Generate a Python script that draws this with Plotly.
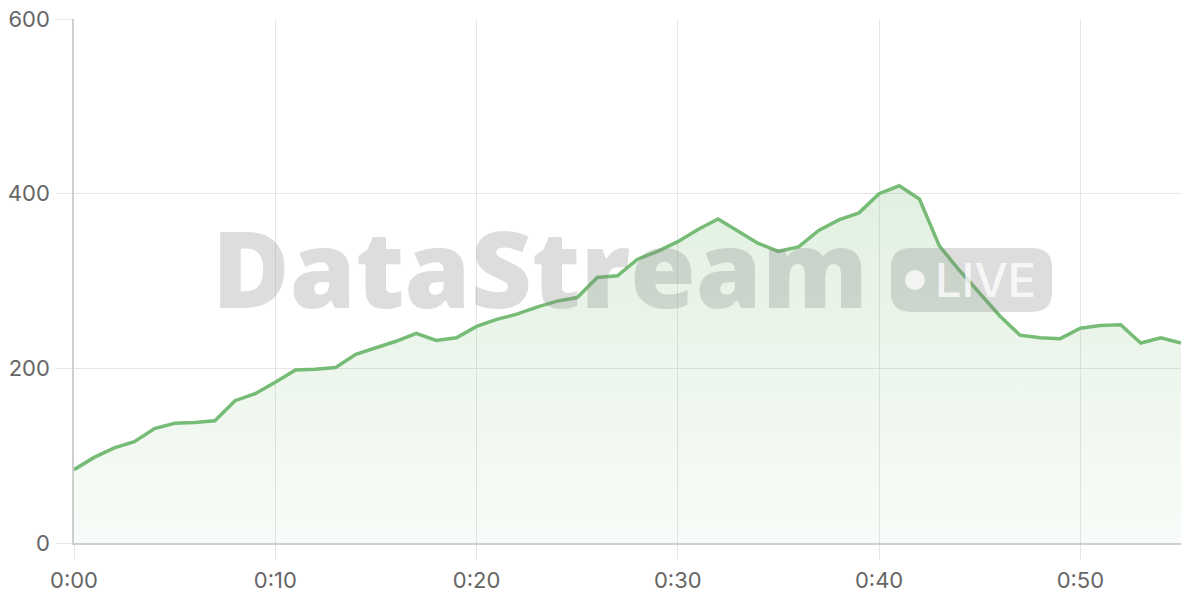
import plotly.graph_objects as go

# one reading per minute, 0:00 .. 0:55
minutes = list(range(56))
values = [
    84, 98, 109, 116, 131, 137, 138, 140, 163, 171,
    184, 198, 199, 201, 216, 223, 231, 240, 232, 235,
    248, 256, 262, 270, 277, 281, 304, 306, 325, 334,
    345, 359, 371, 357, 343, 334, 339, 358, 370, 378,
    400, 409, 394, 340, 312, 286, 260, 238, 235, 234,
    246, 249, 250, 229, 235, 229,
]
tick_vals = [0, 10, 20, 30, 40, 50]
tick_text = ["0:00", "0:10", "0:20", "0:30", "0:40", "0:50"]

_GREEN = "rgb(118,188,118)"
_GRID = "#e6e6e6"
_AXIS = "#cfcfcf"
_WM = "rgba(128,128,128,0.27)"

fig = go.Figure()
fig.add_trace(go.Scatter(
    x=minutes, y=values, mode="lines",
    line=dict(color=_GREEN, width=3.5),
    fill="tozeroy",
    fillgradient=dict(
        type="vertical",
        colorscale=[[0, "rgba(118,188,118,0.05)"], [1, "rgba(118,188,118,0.22)"]],
    ),
    showlegend=False, hoverinfo="skip",
))

fig.update_xaxes(
    range=[0, 55], tickvals=tick_vals, ticktext=tick_text,
    showgrid=True, gridcolor=_GRID, gridwidth=1,
    showline=True, linecolor=_AXIS, linewidth=1.5,
    ticks="outside", ticklen=15, tickcolor=_GRID,
    ticklabelstandoff=2, ticklabeloverflow="allow",
    zeroline=False, automargin=False,
)
fig.update_yaxes(
    range=[0, 600], tickvals=[0, 200, 400, 600],
    showgrid=True, gridcolor=_GRID, gridwidth=1,
    showline=True, linecolor=_AXIS, linewidth=1.5,
    ticks="outside", ticklen=16, tickcolor=_GRID,
    ticklabelstandoff=2, ticklabeloverflow="allow",
    zeroline=False, automargin=False,
)

# watermark (paper coords of the plot area)
fig.add_annotation(
    text="DataStream", xref="paper", yref="paper", x=0.421, y=0.527,
    xanchor="center", yanchor="middle", showarrow=False,
    font=dict(family="Open Sans", size=106, color=_WM, weight=800),
)
fig.add_shape(
    type="path", xref="paper", yref="paper", layer="above",
    path="M 0.738,0.525 L 0.738,0.479 Q 0.738,0.441 0.7561,0.441 "
         "L 0.8654,0.441 Q 0.8835,0.441 0.8835,0.479 L 0.8835,0.525 "
         "Q 0.8835,0.563 0.8654,0.563 L 0.7561,0.563 Q 0.738,0.563 0.738,0.525 Z",
    fillcolor=_WM, line=dict(width=0),
)
fig.add_shape(
    type="circle", xref="paper", yref="paper", layer="above",
    x0=0.7507, x1=0.7687, y0=0.4828, y1=0.521,
    fillcolor="rgba(255,255,255,0.75)", line=dict(width=0),
)
fig.add_annotation(
    text="LIVE", xref="paper", yref="paper", x=0.823, y=0.502,
    xanchor="center", yanchor="middle", showarrow=False,
    font=dict(family="Inter", size=47, color="rgba(255,255,255,0.75)", weight=500),
)

fig.update_layout(
    width=1200, height=600,
    margin=dict(l=74, r=19, t=19, b=57),
    paper_bgcolor="white", plot_bgcolor="white",
    font=dict(family="Inter", size=22, color="#666666"),
)
# drop the default 8px body margin so the figure fills the window
fig.write_html(
    "out.html",
    config={"displayModeBar": False},
    post_script="document.body.style.margin='0';",
)
